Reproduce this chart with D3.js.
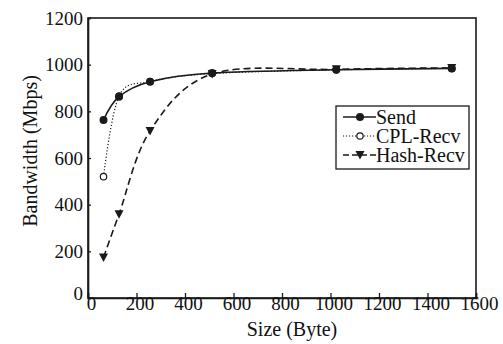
<!DOCTYPE html>
<html><head><meta charset="utf-8">
<script src="https://cdn.jsdelivr.net/npm/d3@7"></script>
</head><body style="margin:0;background:#fff"><svg id="c" width="503" height="344" font-family="Liberation Serif" style="display:block"></svg>
<script>
const sizes = [64, 128, 256, 512, 1024, 1500];
const sendVals = [763, 863, 927, 964, 978, 984];
const cplVals = [520, 865, 928, 962, 978, 984];
const hashVals = [174, 359, 716, 960, 980, 986];
const xTicks = [0,200,400,600,800,1000,1200,1400,1600];
const yTicks = [0,200,400,600,800,1000,1200];
const seriesNames = ["Send","CPL-Recv","Hash-Recv"];

const FONT = "Liberation Serif";
const svg = d3.select("#c");
const L=88,R=476,T=18,B=298;
const x = d3.scaleLinear().domain([0,1600]).range([L,R]);
const y = d3.scaleLinear().domain([0,1200]).range([B,T]);
const col="#1a1a1a";

svg.append("rect").attr("x",L).attr("y",T).attr("width",R-L).attr("height",B-T)
  .attr("fill","none").attr("stroke",col).attr("stroke-width",1.6);

const xa = svg.append("g").attr("transform",`translate(0,${B})`)
  .call(d3.axisBottom(x).tickValues(xTicks).tickSize(-5).tickPadding(0).tickFormat(d3.format("d")));
const ya = svg.append("g").attr("transform",`translate(${L},0)`)
  .call(d3.axisLeft(y).tickValues(yTicks).tickSize(-3).tickPadding(5).tickFormat(d3.format("d")));
[xa,ya].forEach(a=>{
  a.attr("font-family",FONT).attr("font-size",19);
  a.select(".domain").attr("stroke",col).attr("stroke-width",1.6);
  a.selectAll(".tick line").attr("stroke",col).attr("stroke-width",1.3);
  a.selectAll("text").attr("font-family",FONT).attr("font-size",19).attr("fill","#111");});
xa.selectAll(".tick text").attr("x",3).attr("y",12).attr("dy",null);
ya.selectAll(".tick text").filter(d=>d===0).attr("dy","0.1em");

svg.append("text").attr("x",292).attr("y",336).attr("text-anchor","middle")
  .attr("font-family",FONT).attr("font-size",20).attr("fill","#111").text("Size (Byte)");
svg.append("text").attr("transform",`translate(37,151) rotate(-90)`).attr("text-anchor","middle")
  .attr("font-family",FONT).attr("font-size",20).attr("fill","#111").text("Bandwidth (Mbps)");

const line = d3.line().x(d=>x(d[0])).y(d=>y(d[1])).curve(d3.curveCardinal.tension(0));
const series = [
  {vals:sendVals, dash:null, w:1.6, marker:"dot"},
  {vals:cplVals, dash:"1.2,2", w:1.2, marker:"open"},
  {vals:hashVals, dash:"7,4", w:1.6, marker:"tri"}
];
function drawMarker(g,type,cx,cy){
  if(type==="dot") g.append("circle").attr("cx",cx).attr("cy",cy).attr("r",4).attr("fill",col);
  else if(type==="open") g.append("circle").attr("cx",cx).attr("cy",cy).attr("r",3.2).attr("fill","#fff").attr("stroke",col).attr("stroke-width",1.2);
  else g.append("path").attr("d",`M${cx-4.5},${cy-4}L${cx+4.5},${cy-4}L${cx},${cy+4.5}Z`).attr("fill",col);
}
[2,1,0].forEach(i=>{
  const s=series[i];
  svg.append("path").datum(sizes.map((v,j)=>[v,s.vals[j]])).attr("d",line)
    .attr("fill","none").attr("stroke",col).attr("stroke-width",s.w).attr("stroke-dasharray",s.dash);
});
[2,1,0].forEach(i=>{
  const s=series[i];const g=svg.append("g");
  sizes.forEach((v,j)=>drawMarker(g,s.marker,x(v),y(s.vals[j])));
});

const lg = svg.append("g");
lg.append("rect").attr("x",336).attr("y",106).attr("width",133).attr("height",63)
  .attr("fill","#fff").attr("stroke",col).attr("stroke-width",1.3);
seriesNames.forEach((n,i)=>{
  const yy=117+i*19; const s=series[i];
  lg.append("line").attr("x1",343).attr("x2",376).attr("y1",yy).attr("y2",yy)
    .attr("stroke",col).attr("stroke-width",s.w-0.2).attr("stroke-dasharray",s.dash?(i===2?"6,3":"1.2,1.8"):null);
  drawMarker(lg,s.marker,360,yy);
  lg.append("text").attr("x",376).attr("y",yy+6.5).attr("font-family",FONT).attr("font-size",20).attr("fill","#111").text(n);
});
</script></body></html>
